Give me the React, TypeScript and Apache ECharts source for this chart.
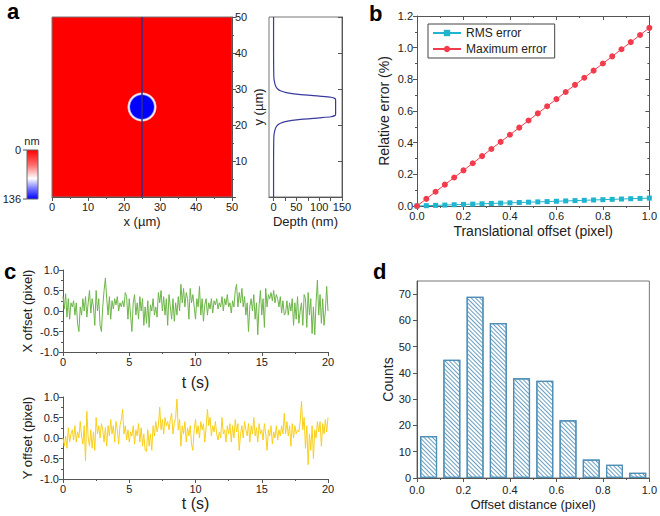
import React, { useEffect, useRef } from 'react';
import * as echarts from 'echarts';

// ---------- Panel a ----------
const SPOT_CENTER = [25, 25];
const PROFILE_X = [25, 25];
const PROFILE_Y = [0, 50];
// depth profile along x = 25 µm : [depth (nm), y (µm)]
const DEPTH_Y = [0, 5, 10, 15, 17, 18, 19, 19.5, 20, 20.5, 21, 21.5, 22, 22.3, 22.6, 23, 25, 27, 27.4, 27.7, 28, 28.5, 29, 29.5, 30, 30.5, 31, 32, 33, 35, 40, 45, 50];
const DEPTH_NM = [0, 0, 0, 0.3, 0.8, 2, 4, 6, 9, 15, 28, 55, 100, 126, 134, 136, 136, 136, 134, 126, 100, 55, 28, 15, 9, 6, 4, 2, 0.8, 0.3, 0, 0, 0];
const COLORBAR_LABELS = ['0', '136'];

// ---------- Panel b ----------
const TRANS_OFFSET = [0, 0.04, 0.08, 0.12, 0.16, 0.2, 0.24, 0.28, 0.32, 0.36, 0.4, 0.44, 0.48, 0.52, 0.56, 0.6, 0.64, 0.68, 0.72, 0.76, 0.8, 0.84, 0.88, 0.92, 0.96, 1.0];
const RMS_ERR = [0, 0.002, 0.004, 0.006, 0.008, 0.01, 0.012, 0.014, 0.016, 0.018, 0.02, 0.022, 0.024, 0.026, 0.028, 0.03, 0.032, 0.034, 0.036, 0.038, 0.04, 0.042, 0.044, 0.046, 0.048, 0.05];
const MAX_ERR = [0, 0.045, 0.09, 0.135, 0.18, 0.225, 0.27, 0.315, 0.36, 0.405, 0.45, 0.495, 0.54, 0.585, 0.63, 0.675, 0.72, 0.765, 0.81, 0.855, 0.9, 0.945, 0.99, 1.035, 1.08, 1.125];

// ---------- Panel c ----------
const T_END = 20;
const X_OFFSET = [
  0.35, 0.05, 0.42, -0.15, 0.3, -0.2, 0.2, 0.1, 0.25, -0.1,
  0.2, -0.3, -0.5, 0.1, -0.1, 0.3, 0.0, 0.35, -0.15, 0.2,
  0.5, -0.05, 0.3, 0.1, -0.35, 0.5, 0.0, 0.3, -0.35, -0.5,
  0.1, 0.5, 0.8, 0.3, -0.1, 0.35, -0.2, 0.25, 0.05, 0.3,
  0.15, 0.35, 0.0, 0.2, 0.1, 0.25, 0.1, 0.45, 0.35, -0.2,
  0.3, -0.1, -0.5, 0.2, 0.4, -0.1, 0.2, -0.2, 0.35, 0.0,
  0.3, -0.35, 0.1, -0.3, 0.25, -0.4, 0.15, 0.0, 0.3, -0.1,
  0.1, -0.15, 0.45, 0.2, 0.5, 0.0, 0.35, -0.1, 0.3, -0.35,
  0.4, 0.1, -0.2, 0.3, -0.25, 0.2, -0.1, 0.35, 0.0, 0.65,
  0.2, 0.55, 0.1, 0.45, 0.3, -0.2, 0.55, 0.2, 0.4, 0.1,
  -0.2, 0.3, 0.1, 0.6, -0.1, 0.3, -0.25, 0.15, 0.3, -0.1,
  0.2, 0.05, 0.3, -0.05, 0.25, 0.15, 0.3, 0.05, 0.2, 0.1,
  0.35, 0.0, 0.3, 0.15, 0.4, 0.1, 0.2, -0.05, 0.25, 0.1,
  0.5, 0.65, 0.1, 0.45, 0.2, 0.55, 0.1, 0.35, -0.1, 0.2,
  -0.5, 0.1, 0.3, 0.0, 0.4, -0.2, 0.2, -0.58, 0.15, 0.5,
  -0.1, 0.3, -0.4, 0.55, 0.1, 0.4, 0.3, 0.45, 0.25, 0.5,
  0.2, 0.4, 0.3, 0.1, 0.35, -0.05, 0.25, -0.1, -0.05, 0.25,
  -0.1, 0.2, 0.0, 0.3, -0.35, 0.2, -0.2, 0.35, -0.3, 0.0,
  0.2, -0.35, 0.4, 0.3, -0.4, 0.45, -0.1, 0.3, -0.55, 0.1,
  -0.58, 0.2, 0.75, -0.1, 0.4, -0.3, 0.3, -0.35, 0.0, 0.6,
  0.0,
];
const Y_OFFSET = [
  0.0, -0.2, 0.05, -0.25, 0.25, -0.1, 0.1, 0.2, -0.05, 0.3,
  -0.1, 0.15, 0.0, 0.4, 0.05, -0.15, 0.3, -0.55, 0.65, 0.0,
  -0.2, 0.2, -0.25, 0.15, -0.3, 0.5, 0.1, 0.3, 0.0, 0.35,
  0.2, -0.1, 0.25, -0.2, 0.3, 0.05, 0.45, 0.1, 0.3, -0.1,
  0.4, 0.2, -0.15, 0.3, 0.45, 0.7, 0.1, 0.3, -0.05, 0.2,
  -0.1, 0.15, 0.05, 0.3, -0.15, 0.2, 0.05, 0.35, -0.1, 0.25,
  -0.2, 0.1, -0.3, -0.33, 0.2, -0.2, 0.1, -0.3, 0.3, 0.05,
  0.4, 0.15, 0.3, 0.75, 0.2, 0.45, 0.1, 0.5, 0.3, 0.4,
  0.2, 0.45, 0.6, 0.1, 0.35, 0.5, 0.95, 0.2, 0.45, -0.2,
  0.3, 0.1, 0.4, -0.1, 0.25, 0.05, 0.3, -0.15, -0.3, 0.2,
  0.45, 0.1, 0.3, 0.0, 0.4, 0.2, 0.35, -0.1, 0.25, 0.7,
  0.3, 0.5, 0.05, 0.3, 0.15, 0.4, 0.1, -0.05, 0.15, 0.0,
  0.5, 0.1, 0.2, -0.1, 0.3, 0.1, 0.35, -0.1, 0.3, 0.0,
  0.45, 0.15, 0.35, -0.3, 0.1, 0.3, 0.0, 0.4, 0.2, 0.05,
  0.35, -0.1, 0.3, 0.1, 0.5, 0.05, 0.25, -0.1, 0.35, 0.1,
  0.2, -0.05, 0.35, 0.1, -0.3, 0.2, 0.05, 0.3, -0.15, 0.15,
  0.0, 0.3, -0.05, 0.2, 0.05, 0.3, 0.1, 0.6, 0.1, 0.4,
  0.05, 0.3, -0.2, 0.35, 0.0, 0.3, 0.1, 0.2, 0.15, 0.4,
  0.9, 0.2, 0.5, -0.25, 0.3, -0.65, 0.1, -0.3, 0.3, -0.5,
  0.2, 0.0, 0.4, 0.15, 0.4, -0.2, 0.35, 0.1, 0.45, 0.15,
  0.5,
];

// ---------- Panel d ----------
const BIN_CENTERS = [0.05, 0.15, 0.25, 0.35, 0.45, 0.55, 0.65, 0.75, 0.85, 0.95];
const COUNTS = [16, 45, 69, 59, 38, 37, 22, 7, 5, 2];

const FONT = '"Liberation Sans", Arial, Helvetica, sans-serif';
const AX = '#555';
const TXT = '#222';

function vAxis(o: any) {
  const {
    grid, min, max, interval, position, labels = true, ticksInside = false, minor = true,
    fmt, name, nameGap, nameRotate, nameSize = 13, labelCustom, tickCustom, showMin = true, margin = 4,
  } = o;
  const ax: any = {
    type: 'value', gridIndex: grid, min, max, position,
    splitLine: { show: false },
    axisLine: { show: true, onZero: false, lineStyle: { color: AX, width: 1 } },
    axisTick: { show: true, inside: ticksInside, length: 4, lineStyle: { color: AX } },
    minorTick: { show: minor, splitNumber: 2, length: 2, lineStyle: { color: AX } },
    axisLabel: {
      show: labels, color: TXT, fontSize: 11, fontFamily: FONT, margin, showMinLabel: showMin,
    },
  };
  if (interval !== undefined) ax.interval = interval;
  if (fmt) ax.axisLabel.formatter = fmt;
  if (labelCustom) ax.axisLabel.customValues = labelCustom;
  if (tickCustom) ax.axisTick.customValues = tickCustom;
  if (name) {
    ax.name = name;
    ax.nameLocation = 'middle';
    ax.nameGap = nameGap;
    if (nameRotate !== undefined) ax.nameRotate = nameRotate;
    ax.nameTextStyle = { color: TXT, fontSize: nameSize, fontFamily: FONT };
  }
  return ax;
}

const fmt1 = (v: number) => v.toFixed(1);

function buildOption(): any {
  const depthData = DEPTH_Y.map((y, i) => [DEPTH_NM[i], y]);
  const xOff = X_OFFSET.map((v, i) => [(i * T_END) / (X_OFFSET.length - 1), v]);
  const yOff = Y_OFFSET.map((v, i) => [(i * T_END) / (Y_OFFSET.length - 1), v]);

  const spotGradient = new echarts.graphic.RadialGradient(0.5, 0.5, 0.5, [
    { offset: 0, color: '#0000ff' },
    { offset: 0.76, color: '#0000ff' },
    { offset: 0.84, color: '#c8c8ff' },
    { offset: 0.89, color: '#ffffff' },
    { offset: 0.95, color: '#ff9a9a' },
    { offset: 1, color: '#ff0000' },
  ]);
  const cbGradient = new echarts.graphic.LinearGradient(0, 0, 0, 1, [
    { offset: 0, color: '#ff0000' },
    { offset: 0.3, color: '#ff6a6a' },
    { offset: 0.58, color: '#ffffff' },
    { offset: 0.8, color: '#7070ff' },
    { offset: 1, color: '#0000ff' },
  ]);

  const letter = (t: string, x: number, y: number) => ({
    type: 'text', left: x, top: y,
    style: { text: t, fontSize: 22, fontWeight: 'bold', fontFamily: FONT, fill: '#000' },
  });

  return {
    animation: false,
    textStyle: { fontFamily: FONT },
    grid: [
      { left: 52, top: 17, width: 180, height: 180, show: true, backgroundColor: '#ff0000', borderColor: '#777', borderWidth: 1 },
      { left: 269, top: 17, width: 73, height: 180, show: true, borderColor: '#777', borderWidth: 1, backgroundColor: '#fff' },
      { left: 417, top: 16, width: 236, height: 190 },
      { left: 63, top: 270, width: 265, height: 82 },
      { left: 63, top: 397, width: 265, height: 82 },
      { left: 417, top: 281, width: 233, height: 197, show: true, borderColor: '#777', borderWidth: 1, backgroundColor: '#fff' },
    ],
    xAxis: [
      vAxis({ grid: 0, min: 0, max: 50, interval: 10, position: 'bottom', name: 'x (µm)', nameGap: 18 }),
      vAxis({ grid: 1, min: -10, max: 150, position: 'bottom', labelCustom: [0, 50, 100, 150], tickCustom: [0, 25, 50, 75, 100, 125, 150], minor: false, name: 'Depth (nm)', nameGap: 18 }),
      vAxis({ grid: 2, min: 0, max: 1, interval: 0.2, position: 'bottom', fmt: fmt1, name: 'Translational offset (pixel)', nameGap: 18, nameSize: 14 }),
      vAxis({ grid: 2, min: 0, max: 1, interval: 0.2, position: 'top', labels: false, ticksInside: true }),
      vAxis({ grid: 3, min: 0, max: 20, interval: 5, position: 'bottom', name: 't (s)', nameGap: 22, nameSize: 16 }),
      vAxis({ grid: 4, min: 0, max: 20, interval: 5, position: 'bottom', name: 't (s)', nameGap: 16, nameSize: 16 }),
      vAxis({ grid: 5, min: 0, max: 1, interval: 0.2, position: 'bottom', fmt: fmt1, name: 'Offset distance (pixel)', nameGap: 20, margin: 6 }),
    ],
    yAxis: [
      vAxis({ grid: 0, min: 0, max: 50, interval: 10, position: 'right', showMin: false, name: 'y (µm)', nameGap: 20, nameRotate: 90, margin: 3 }),
      vAxis({ grid: 1, min: 0, max: 50, interval: 10, position: 'right', labels: false, ticksInside: true, minor: false }),
      vAxis({ grid: 2, min: 0, max: 1.2, interval: 0.2, position: 'left', fmt: fmt1, name: 'Relative error (%)', nameGap: 26, nameSize: 14 }),
      vAxis({ grid: 2, min: 0, max: 1.2, interval: 0.2, position: 'right', labels: false, ticksInside: true }),
      vAxis({ grid: 3, min: -1, max: 1, interval: 0.5, position: 'left', fmt: fmt1, name: 'X offset (pixel)', nameGap: 29 }),
      vAxis({ grid: 4, min: -1, max: 1, interval: 0.5, position: 'left', fmt: fmt1, name: 'Y offset (pixel)', nameGap: 29 }),
      vAxis({ grid: 5, min: 0, max: 75, position: 'left', labelCustom: [0, 10, 20, 30, 40, 50, 60, 70], tickCustom: [0, 10, 20, 30, 40, 50, 60, 70], minor: false, name: 'Counts', nameGap: 22, nameSize: 14, margin: 6 }),
    ],
    legend: {
      orient: 'vertical', left: 428, top: 24, itemWidth: 28, itemHeight: 8, itemGap: 4,
      borderColor: '#444', borderWidth: 1, padding: [3, 8, 3, 4],
      textStyle: { color: TXT, fontSize: 12, fontFamily: FONT },
      data: ['RMS error', 'Maximum error'],
    },
    series: [
      {
        type: 'scatter', xAxisIndex: 0, yAxisIndex: 0, data: [SPOT_CENTER], symbol: 'circle', symbolSize: 30,
        itemStyle: { color: spotGradient, opacity: 1 }, silent: true,
      },
      {
        type: 'line', xAxisIndex: 0, yAxisIndex: 0, data: PROFILE_X.map((x, i) => [x, PROFILE_Y[i]]),
        symbol: 'none', lineStyle: { color: '#2e2e8c', width: 1.5 },
      },
      {
        type: 'line', xAxisIndex: 1, yAxisIndex: 1, data: depthData, symbol: 'none', smooth: 0.2,
        lineStyle: { color: '#3a3a9e', width: 1.2 },
      },
      {
        name: 'RMS error', type: 'line', xAxisIndex: 2, yAxisIndex: 2,
        data: TRANS_OFFSET.map((x, i) => [x, RMS_ERR[i]]),
        symbol: 'rect', symbolSize: 5, color: '#1fb5cf',
        lineStyle: { color: '#1fb5cf', width: 1 }, itemStyle: { color: '#1fb5cf' },
      },
      {
        name: 'Maximum error', type: 'line', xAxisIndex: 2, yAxisIndex: 2,
        data: TRANS_OFFSET.map((x, i) => [x, MAX_ERR[i]]),
        symbol: 'circle', symbolSize: 6, color: '#f23b4c',
        lineStyle: { color: '#f23b4c', width: 1 }, itemStyle: { color: '#f23b4c' },
      },
      {
        type: 'line', xAxisIndex: 4, yAxisIndex: 4, data: xOff, symbol: 'none',
        lineStyle: { color: '#6db548', width: 1 },
      },
      {
        type: 'line', xAxisIndex: 5, yAxisIndex: 5, data: yOff, symbol: 'none',
        lineStyle: { color: '#f8cf1c', width: 1 },
      },
      {
        type: 'bar', xAxisIndex: 6, yAxisIndex: 6, data: BIN_CENTERS.map((x, i) => [x, COUNTS[i]]),
        barWidth: 17,
        itemStyle: {
          color: '#ffffff', borderColor: '#4f8fb6', borderWidth: 1.2,
          decal: { symbol: 'rect', symbolSize: 1, color: '#6a9fc2', dashArrayX: [1, 0], dashArrayY: [1, 2], rotation: Math.PI / 4 },
        },
      },
    ],
    graphic: [
      letter('a', 7, 0),
      letter('b', 369, 2),
      letter('c', 4, 260),
      letter('d', 373, 260),
      // colorbar
      { type: 'rect', shape: { x: 27, y: 150, width: 11, height: 49 }, style: { fill: cbGradient, stroke: '#666', lineWidth: 1 } },
      { type: 'line', shape: { x1: 23, y1: 150, x2: 27, y2: 150 }, style: { stroke: '#555', lineWidth: 1 } },
      { type: 'line', shape: { x1: 23, y1: 199, x2: 27, y2: 199 }, style: { stroke: '#555', lineWidth: 1 } },
      { type: 'text', x: 21, y: 150, style: { text: COLORBAR_LABELS[0], fontSize: 11, fontFamily: FONT, fill: TXT, align: 'right', verticalAlign: 'middle' } },
      { type: 'text', x: 21, y: 199, style: { text: COLORBAR_LABELS[1], fontSize: 11, fontFamily: FONT, fill: TXT, align: 'right', verticalAlign: 'middle' } },
      { type: 'text', x: 32, y: 141, style: { text: 'nm', fontSize: 11, fontFamily: FONT, fill: TXT, align: 'center', verticalAlign: 'middle' } },
    ],
  };
}

export default function App() {
  const ref = useRef<HTMLDivElement>(null);
  useEffect(() => {
    document.body.style.margin = '0';
    const chart = echarts.init(ref.current as HTMLDivElement, null, { renderer: 'svg' });
    chart.setOption(buildOption());
    return () => chart.dispose();
  }, []);
  return <div ref={ref} style={{ width: 660, height: 516 }} />;
}
